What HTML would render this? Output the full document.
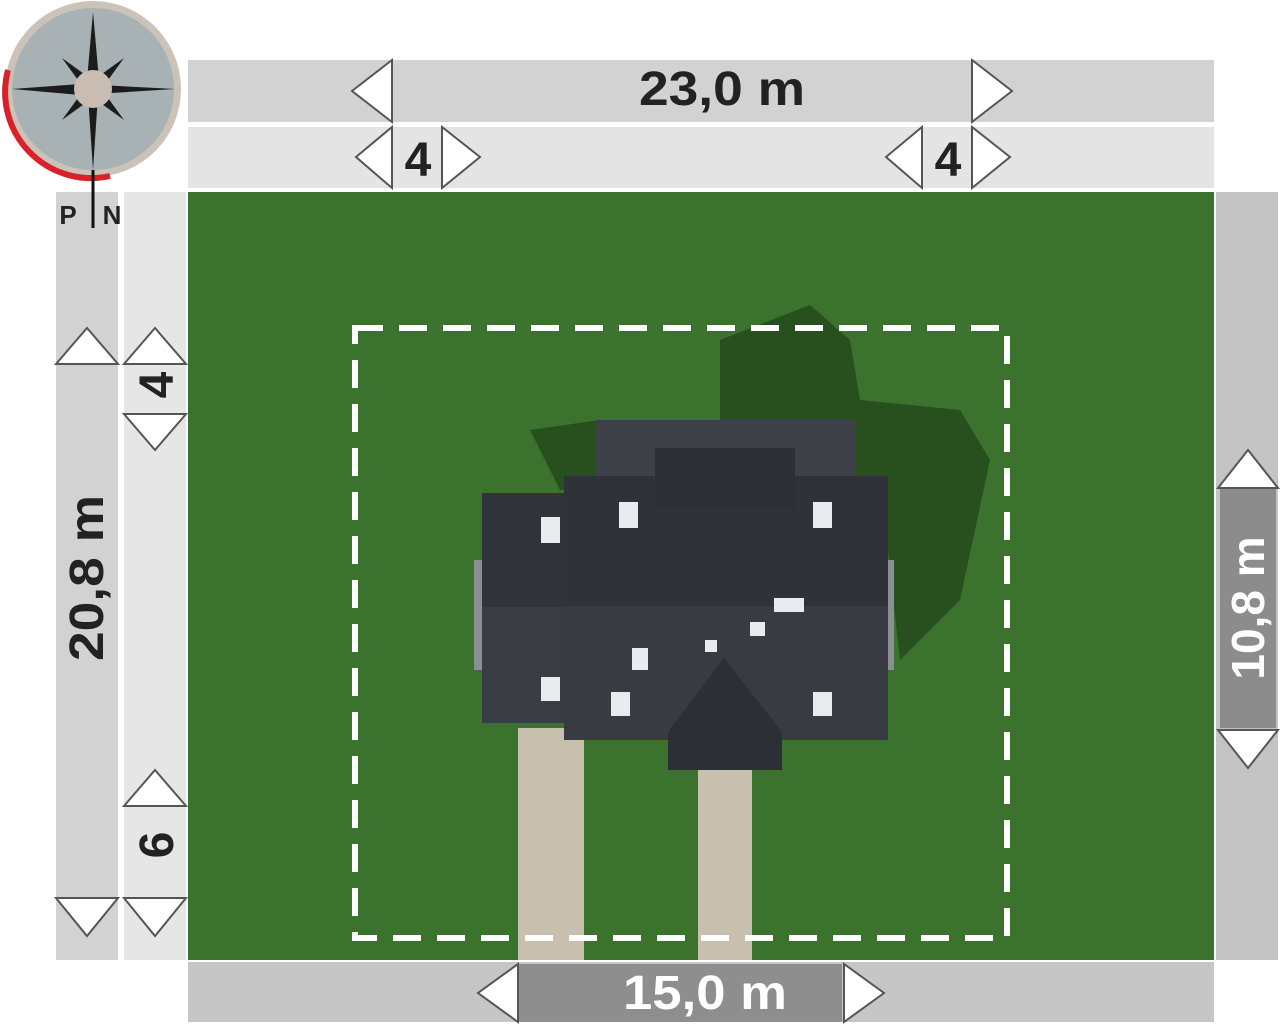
<!DOCTYPE html>
<html><head><meta charset="utf-8"><style>
html,body{margin:0;padding:0;background:#fff;}
svg{display:block}
text{font-family:"Liberation Sans",sans-serif;font-weight:bold;}
</style></head><body>
<svg width="1280" height="1027" viewBox="0 0 1280 1027" xmlns="http://www.w3.org/2000/svg">
<rect width="1280" height="1027" fill="#fff"/>
<rect x="188" y="60" width="1026" height="62" fill="#d2d2d2"/>
<rect x="188" y="127" width="1026" height="61" fill="#e4e4e4"/>
<rect x="56" y="192" width="62" height="768" fill="#d2d2d2"/>
<rect x="124" y="192" width="62" height="768" fill="#e6e6e6"/>
<rect x="1216" y="192" width="62" height="768" fill="#c4c4c4"/>
<rect x="1220" y="488" width="56" height="240" fill="#8c8c8c"/>
<rect x="188" y="962" width="1026" height="60" fill="#c6c6c6"/>
<rect x="518" y="964" width="324" height="58" fill="#8e8e8e"/>
<rect x="188" y="192" width="1026" height="768" fill="#3b722e"/>
<polygon points="530,430 600,420 720,420 720,340 810,305 850,340 860,400 960,410 990,460 960,600 900,660 880,480 560,490" fill="#27501e"/>
<rect x="518" y="728" width="66" height="232" fill="#c8bfae"/>
<rect x="698" y="770" width="54" height="190" fill="#c8bfae"/>
<rect x="596" y="420" width="260" height="80" fill="#3f4148"/>
<rect x="474" y="560" width="420" height="110" fill="#8a8f96"/>
<rect x="482" y="493" width="84" height="230" fill="#30333a"/>
<rect x="482" y="607" width="84" height="116" fill="#393c43"/>
<rect x="564" y="476" width="324" height="132" fill="#2f3238"/>
<rect x="564" y="606" width="324" height="134" fill="#383b42"/>
<rect x="655" y="448" width="140" height="60" fill="#2c2f35"/>
<polygon points="668,732 724,658 782,732 782,770 668,770" fill="#2c2f35"/>
<g fill="#e8ecef">
<rect x="541" y="517" width="19" height="26"/>
<rect x="619" y="502" width="19" height="26"/>
<rect x="813" y="502" width="19" height="26"/>
<rect x="541" y="677" width="19" height="24"/>
<rect x="611" y="692" width="19" height="24"/>
<rect x="813" y="692" width="19" height="24"/>
<rect x="774" y="598" width="30" height="14"/>
<rect x="750" y="622" width="15" height="14"/>
<rect x="632" y="648" width="16" height="22"/>
<rect x="705" y="640" width="12" height="12"/>
</g>
<rect x="355" y="328" width="652" height="610" fill="none" stroke="#fff" stroke-width="6" stroke-dasharray="28 16"/>
<g fill="#fff" stroke="#555" stroke-width="2">
<polygon points="392,60 392,122 352,91"/>
<polygon points="972,60 972,122 1012,91"/>
<polygon points="392,127 392,188 356,157"/>
<polygon points="442,127 442,188 480,157"/>
<polygon points="922,127 922,188 886,157"/>
<polygon points="972,127 972,188 1010,157"/>
<polygon points="56,364 118,364 87,328"/>
<polygon points="56,898 118,898 87,936"/>
<polygon points="124,364 186,364 155,328"/>
<polygon points="124,414 186,414 155,450"/>
<polygon points="124,806 186,806 155,770"/>
<polygon points="124,898 186,898 155,936"/>
<polygon points="1218,488 1278,488 1248,450"/>
<polygon points="1218,730 1278,730 1248,768"/>
<polygon points="518,964 518,1022 478,993"/>
<polygon points="844,964 844,1022 884,993"/>
</g>
<text x="722" y="105" font-size="48" fill="#222" text-anchor="middle" textLength="166" lengthAdjust="spacingAndGlyphs">23,0 m</text>
<text x="418" y="176" font-size="48" fill="#222" text-anchor="middle">4</text>
<text x="948" y="176" font-size="48" fill="#222" text-anchor="middle">4</text>
<text transform="translate(103,578) rotate(-90)" font-size="48" fill="#222" text-anchor="middle" textLength="166" lengthAdjust="spacingAndGlyphs">20,8 m</text>
<text transform="translate(173,385) rotate(-90)" font-size="48" fill="#222" text-anchor="middle">4</text>
<text transform="translate(173,845) rotate(-90)" font-size="48" fill="#222" text-anchor="middle">6</text>
<text transform="translate(1264,608) rotate(-90)" font-size="46" fill="#fff" text-anchor="middle">10,8 m</text>
<text x="705" y="1009" font-size="48" fill="#fff" text-anchor="middle" textLength="164" lengthAdjust="spacingAndGlyphs">15,0 m</text>
<circle cx="93" cy="89" r="88" fill="#cbc3b8"/>
<circle cx="93" cy="89" r="81" fill="#a8b2b4"/>
<path d="M8,70 A86,86 0 0,0 110,176" fill="none" stroke="#d8212a" stroke-width="6"/>
<g fill="#1c1c1c">
<polygon points="93,12 99,80 93,170 87,80"/>
<polygon points="12,89 80,84 175,89 80,95"/>
<polygon points="62,58 98,84 124,120 88,94"/>
<polygon points="124,58 98,94 62,120 88,84"/>
</g>
<circle cx="93" cy="89" r="19" fill="#c9bcb2"/>
<line x1="93" y1="170" x2="93" y2="228" stroke="#111" stroke-width="3"/>
<text x="68" y="224" font-size="26" fill="#222" text-anchor="middle">P</text>
<text x="112" y="224" font-size="26" fill="#222" text-anchor="middle">N</text>
</svg>
</body></html>
